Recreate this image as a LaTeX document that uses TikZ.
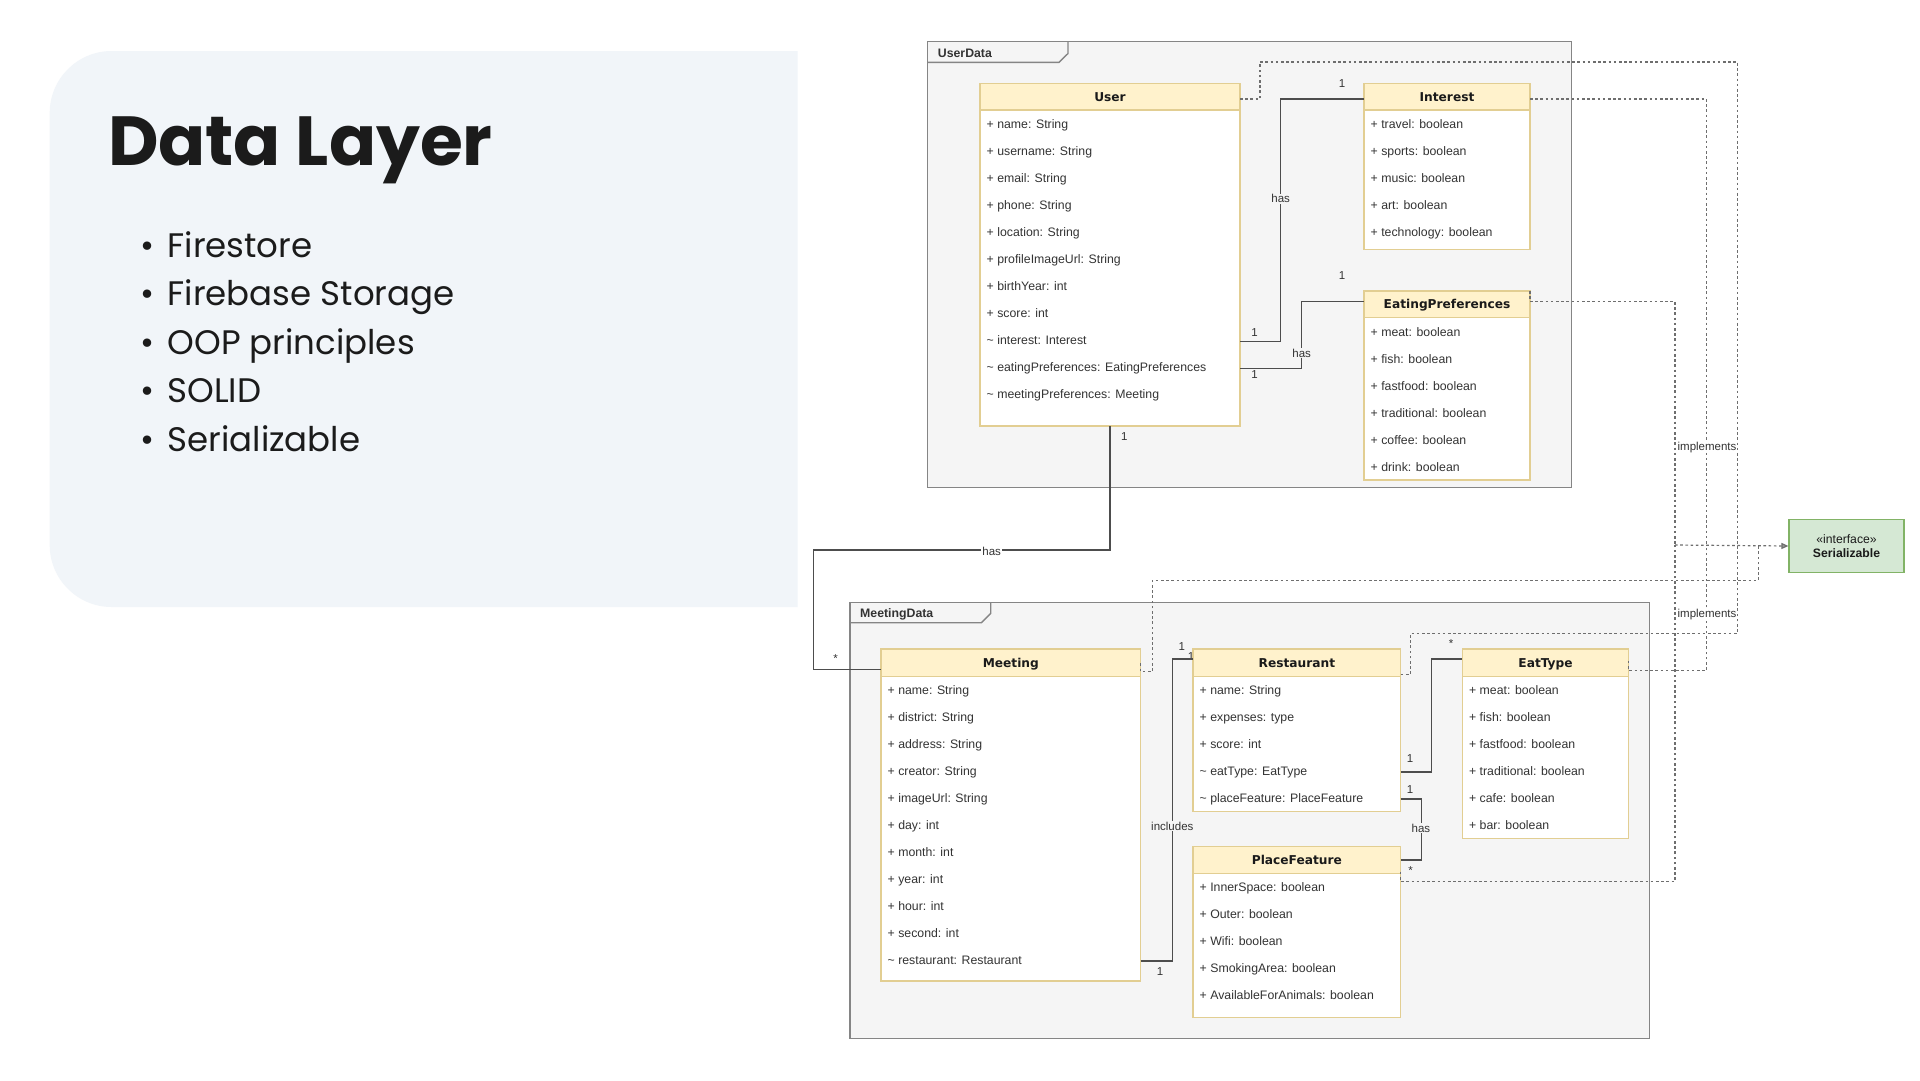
\documentclass[tikz,border=0pt]{standalone}
\usepackage{fontspec}
\setmainfont{Liberation Sans}
\newfontfamily\poppins{Poppins}
\newfontfamily\hdrfont{DejaVu Sans}
\usetikzlibrary{arrows.meta}
\definecolor{panelbg}{HTML}{F1F5F9}
\definecolor{framebg}{HTML}{F5F5F5}
\definecolor{frameline}{HTML}{858585}
\definecolor{hdrfill}{HTML}{FFF2CC}
\definecolor{clsline}{HTML}{E2CE92}
\definecolor{txt}{HTML}{333333}
\definecolor{hdrtxt}{HTML}{1A1A1A}
\definecolor{assoccol}{HTML}{4D4D4D}
\definecolor{implcol}{HTML}{6E6E6E}
\definecolor{ifill}{HTML}{D5E8D4}
\definecolor{iline}{HTML}{82B366}
\definecolor{titletxt}{HTML}{1B1B1B}
\tikzset{
  bodybox/.style={draw=clsline, fill=white, line width=1.2pt, inner sep=0pt, outer sep=0pt},
  headbox/.style={draw=clsline, fill=hdrfill, line width=1.2pt, inner sep=0pt, outer sep=0pt,
    text=hdrtxt, font=\hdrfont\bfseries\fontsize{12.2}{14}\selectfont, text height=9.6pt, text depth=0pt},
  rowtext/.style={anchor=west, inner sep=0pt, text=txt, font=\fontsize{12.3}{14}\selectfont,
    text height=8.8pt, text depth=2.6pt},
  framebox/.style={draw=frameline, fill=framebg, line width=1.4pt, inner sep=0pt, outer sep=0pt},
  tabline/.style={draw=frameline, line width=1.4pt},
  tablbl/.style={anchor=west, inner sep=0pt, text=txt, font=\bfseries\fontsize{12.3}{14}\selectfont},
  assoc/.style={draw=assoccol, line width=1.4pt},
  impl/.style={draw=implcol, line width=1.2pt, dash pattern=on 2.6pt off 2.6pt},
  lbl/.style={inner sep=1pt, text=txt, font=\fontsize{11.5}{13}\selectfont},
  iface/.style={draw=iline, fill=ifill, line width=1.2pt, align=center, inner sep=0pt,
    minimum width=115pt, minimum height=52.4pt, text=hdrtxt, font=\fontsize{12.2}{14}\selectfont},
  bullettxt/.style={anchor=base west, inner sep=0pt, text=titletxt, font=\poppins\fontsize{34}{40}\selectfont},
  bulletdot/.style={anchor=base, inner sep=0pt, text=titletxt, font=\poppins\fontsize{34}{40}\selectfont}
}
% #1 name, #2 title, #3 x1, #4 x2, #5 ytop, #6 header bottom, #7 ybottom, #8 first row y, #9 rows
\newcommand\umlclass[9]{%
  \node[bodybox, anchor=north west, minimum width={(#4-#3)*1pt}, minimum height={(#7-#5)*1pt}] (#1) at (#3,#5) {};
  \node[headbox, anchor=north west, minimum width={(#4-#3)*1pt}, minimum height={(#6-#5)*1pt}] (#1-h) at (#3,#5) {#2};
  \foreach \t [count=\i] in {#9} \node[rowtext] (#1-r\i) at ({#3+6.5},{#8+1+(\i-1)*27}) {\t};
}
\begin{document}
\begin{tikzpicture}[x=1pt,y=-1pt]
\useasboundingbox (0,0) rectangle (1920,1080);
\fill[white] (0,0) rectangle (1920,1080);

% ---------- left panel ----------
\begin{scope}
  \clip (0,0) rectangle (797.6,1080);
  \fill[panelbg, rounded corners=62pt] (49.7,51) rectangle (900,607);
\end{scope}
\node[anchor=base west, inner sep=0pt, text=titletxt, font=\poppins\bfseries\fontsize{69.5}{80}\selectfont] (title) at (107.8,165.9) {Data Layer};
\node[bulletdot] (b1) at (148,257.7) {•};
\node[bullettxt] (t1) at (167.4,257.7) {Firestore};
\node[bulletdot] (b2) at (148,305.9) {•};
\node[bullettxt] (t2) at (167.4,305.9) {Firebase Storage};
\node[bulletdot] (b3) at (148,354.2) {•};
\node[bullettxt] (t3) at (167.4,354.2) {OOP principles};
\node[bulletdot] (b4) at (148,402.6) {•};
\node[bullettxt] (t4) at (167.4,402.6) {SOLID};
\node[bulletdot] (b5) at (148,451) {•};
\node[bullettxt] (t5) at (167.4,451) {Serializable};

% ---------- frames ----------
\node[framebox, anchor=north west, minimum width=644pt, minimum height=446pt] (userdata) at (927.7,41.7) {};
\draw[tabline] (927.7,62.3) -- (1059,62.3) -- (1068,53.5) -- (1068,41.7);
\node[tablbl] (udlbl) at (937.7,53.5) {UserData};

\node[framebox, anchor=north west, minimum width=799.6pt, minimum height=436.1pt] (meetingdata) at (850,602.3) {};
\draw[tabline] (850,622.7) -- (981.5,622.7) -- (990.7,613.5) -- (990.7,602.3);
\node[tablbl] (mdlbl) at (860,614) {MeetingData};

% ---------- interface ----------
\node[iface] (serial) at (1846.5,546) {«interface»\\\textbf{Serializable}};

% ---------- bus coordinates ----------
\coordinate (busC) at (1675,545);
\coordinate (busB) at (1706.7,545);
\coordinate (busA) at (1737.7,545);
\coordinate (busD) at (1758.3,545);

% ---------- classes ----------
\umlclass{user}{User}{980}{1240}{83.3}{110}{426}{124.3}{%
  + name: String, + username: String, + email: String, + phone: String, + location: String,
  + profileImageUrl: String, + birthYear: int, + score: int, \textasciitilde\ interest: Interest,
  \textasciitilde\ eatingPreferences: EatingPreferences, \textasciitilde\ meetingPreferences: Meeting}
\umlclass{interest}{Interest}{1364}{1530}{83.3}{110}{249.3}{124.3}{%
  + travel: boolean, + sports: boolean, + music: boolean, + art: boolean, + technology: boolean}
\umlclass{ep}{EatingPreferences}{1364}{1530}{291}{317.3}{480}{332}{%
  + meat: boolean, + fish: boolean, + fastfood: boolean, + traditional: boolean, + coffee: boolean, + drink: boolean}

% hidden "1" behind Restaurant edge
\node[lbl] (m1b) at (1191,657) {1};

\umlclass{meeting}{Meeting}{881}{1140.7}{649}{676.7}{981}{690}{%
  + name: String, + district: String, + address: String, + creator: String, + imageUrl: String,
  + day: int, + month: int, + year: int, + hour: int, + second: int, \textasciitilde\ restaurant: Restaurant}
\umlclass{restaurant}{Restaurant}{1193}{1400.7}{649}{676.7}{811.7}{690}{%
  + name: String, + expenses: type, + score: int, \textasciitilde\ eatType: EatType, \textasciitilde\ placeFeature: PlaceFeature}
\umlclass{eattype}{EatType}{1462.4}{1628.7}{649}{676.7}{838.3}{690}{%
  + meat: boolean, + fish: boolean, + fastfood: boolean, + traditional: boolean, + cafe: boolean, + bar: boolean}
\umlclass{placefeature}{PlaceFeature}{1193}{1400.7}{846.7}{873.3}{1017.3}{887.7}{%
  + InnerSpace: boolean, + Outer: boolean, + Wifi: boolean, + SmokingArea: boolean, + AvailableForAnimals: boolean}

% ---------- implements (dotted) ----------
\draw[impl] ([yshift=-2.3pt]user-h.east) -- ++(20,0) |- (1737.7,62) -- (busA);
\draw[impl] ([yshift=-11.5pt]restaurant-h.east) -- ++(10,0) |- (1737.7,633.3) -- (busA);
\draw[impl] ([yshift=-2.3pt]interest-h.east) -| (busB);
\draw[impl] ([yshift=2pt]eattype-h.east) -- ([yshift=-7.7pt]eattype-h.east) -| (busB);
\draw[impl] (ep-h.north east) -- ([yshift=2.8pt]ep-h.east) -| (busC);
\draw[impl] ([yshift=1.6pt]placefeature-h.south east) -- ([yshift=-8.4pt]placefeature-h.south east) -| (busC);
\draw[impl] ([yshift=-0.5pt]meeting-h.east) -- ([yshift=-8.8pt]meeting-h.east) -- ++(11.6,0) |- (1758.3,580.7) -- (busD);
\draw[impl, -{Triangle[length=7pt, width=6pt, fill=implcol!70!white]}] (busC) -- (serial.west);
\node[lbl, fill=white, inner sep=0.5pt] (impl1) at (1707,447.4) {implements};
\node[lbl, fill=white, inner sep=0.5pt] (impl2) at (1707,615) {implements};

% ---------- associations ----------
\draw[assoc] (user.south) |- (813.3,550) |- ([yshift=-6.7pt]meeting-h.west);
\node[lbl] (a1) at (1124.3,436.7) {1};
\node[lbl, fill=white] (a2) at (991.7,551.5) {has};
\node[lbl] (a3) at (835.7,658.5) {*};

\draw[assoc] (user.east |- user-r9) -- ++(40.7,0) |- ([yshift=-2.3pt]interest-h.west);
\node[lbl] (i1) at (1254.6,333) {1};
\node[lbl, fill=framebg] (i2) at (1280.7,198.8) {has};
\node[lbl] (i3) at (1342,83.3) {1};

\draw[assoc] (user.east |- user-r10) -- ++(61.7,0) |- ([yshift=2.8pt]ep-h.west);
\node[lbl] (e1) at (1254.6,374.3) {1};
\node[lbl, fill=framebg] (e2) at (1301.7,353.2) {has};
\node[lbl] (e3) at (1342,276) {1};

\draw[assoc] (meeting.east |- meeting-r11) -- ++(31.6,0) |- ([yshift=3.85pt]restaurant-h.west);
\node[lbl] (m1) at (1160,971.7) {1};
\node[lbl, fill=framebg] (m2) at (1172.3,826.2) {includes};
\node[lbl] (m3) at (1181.7,646.7) {1};

\draw[assoc] (restaurant.east |- restaurant-r4) -- ++(30.6,0) |- ([yshift=3.85pt]eattype-h.west);
\node[lbl] (r1) at (1410,758.3) {1};
\node[lbl] (r2) at (1451,644) {*};

\draw[assoc] (restaurant.east |- restaurant-r5) -- ++(20.5,0) |- (placefeature-h.east);
\node[lbl] (p1) at (1410,789.5) {1};
\node[lbl, fill=framebg] (p2) at (1420.9,828.2) {has};
\node[lbl] (p3) at (1410.5,870.5) {*};

\end{tikzpicture}
\end{document}
